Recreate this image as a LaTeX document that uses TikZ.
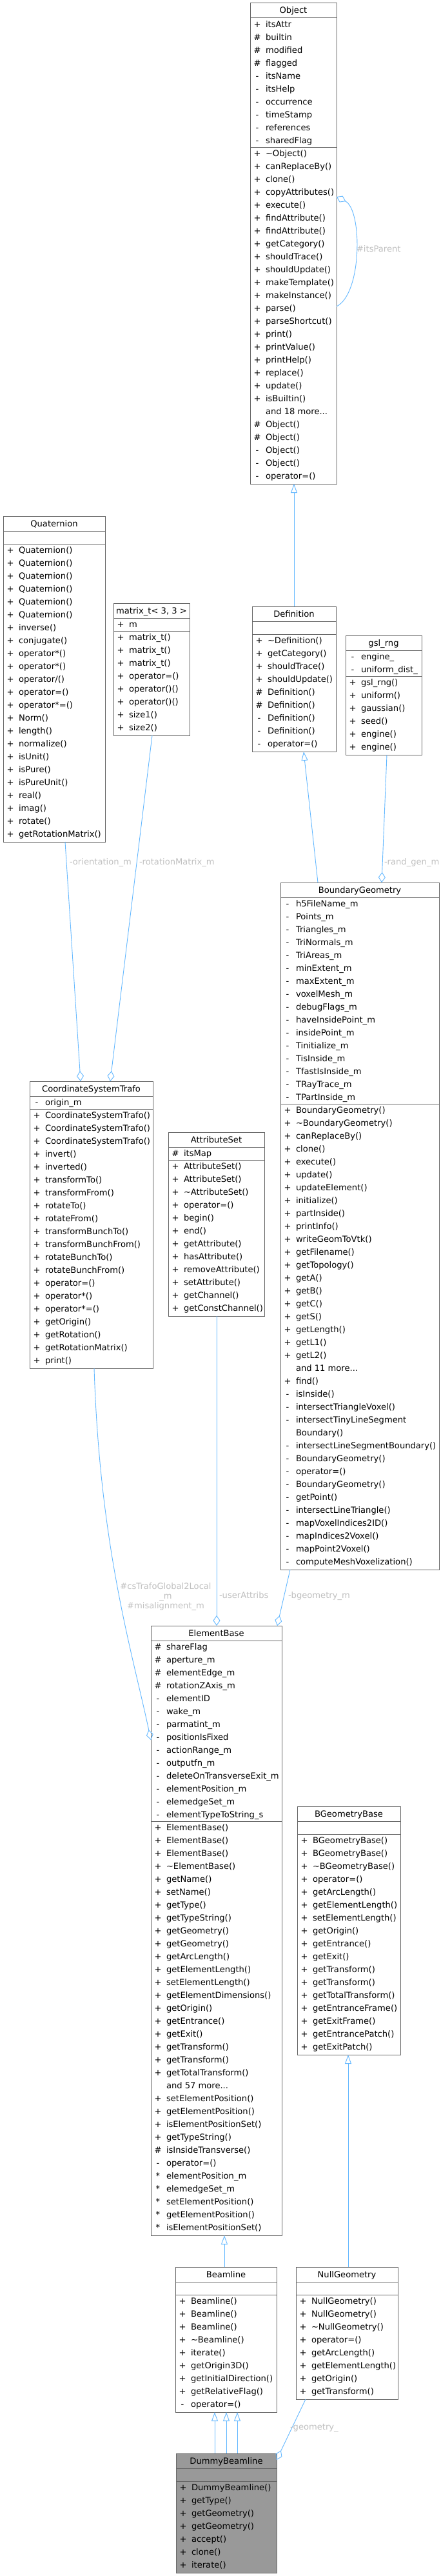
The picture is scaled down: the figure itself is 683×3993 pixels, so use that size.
\documentclass[tikz,border=0pt]{standalone}
\usepackage{fontspec}
\setmainfont{DejaVu Sans}
\usetikzlibrary{arrows.meta,calc}
\definecolor{boxline}{HTML}{666666}
\definecolor{edgecol}{HTML}{63B8FF}
\definecolor{lblcol}{HTML}{C0C0C0}
\definecolor{focusfill}{HTML}{999999}
\newcommand\clsfill{white}
% #1 name #2 left #3 top #4 width #5 nattr #6 nmeth #7 title #8 attrs #9 methods
\newcommand\cls[9]{%
  \pgfmathsetmacro\clsA{max(#5,1)}%
  \pgfmathsetmacro\clsH{23+20*\clsA+20*#6+2}%
  \node[clsbox, fill=\clsfill, minimum width=#4, minimum height=\clsH, anchor=north west] (#1) at (#2,#3) {};
  \draw[boxline, line width=1pt] ($(#1.north west)+(0,23)$) -- ($(#1.north east)+(0,23)$);
  \draw[boxline, line width=1pt] ($(#1.north west)+(0,23+20*\clsA)$) -- ($(#1.north east)+(0,23+20*\clsA)$);
  \node[txt, anchor=base] at ({#2+#4/2},{#3+16}) {#7};
  \if\relax\detokenize{#8}\relax\else
  \foreach \p/\t [count=\i] in {#8} {
    \pgfmathsetmacro\ry{#3+23+14.5+20*(\i-1)}
    \node[txt, anchor=base] at ({#2+11},\ry) {\p};
    \node[txt, anchor=base west] at ({#2+24},\ry) {\t};
  }\fi
  \foreach \p/\t [count=\i] in {#9} {
    \pgfmathsetmacro\ry{#3+23+20*\clsA+14.5+20*(\i-1)}
    \node[txt, anchor=base] at ({#2+11},\ry) {\p};
    \node[txt, anchor=base west] at ({#2+24},\ry) {\t};
  }%
}
\tikzset{
  every node/.style={font=\fontsize{13.1}{15}\selectfont},
  clsbox/.style={draw=boxline, line width=1pt, inner sep=0pt, outer sep=0pt, rectangle},
  txt/.style={inner sep=0pt, outer sep=0pt, text=black},
  lbl/.style={inner sep=0pt, outer sep=0pt, text=lblcol},
  edge/.style={draw=edgecol, line width=0.9pt},
  inh/.style={edge, -{Triangle[open, length=14pt, width=10pt]}},
  comp/.style={edge, -{Diamond[open, length=16pt, width=11pt]}},
}
\begin{document}
\begin{tikzpicture}[x=1pt,y=-1pt]
\useasboundingbox (0,0) rectangle (683,3993);
\fill[white] (0,0) rectangle (683,3993);

\cls{obj}{388}{5}{134}{10}{26}{Object}
 {+/itsAttr, \#/builtin, \#/modified, \#/flagged, -/itsName, -/itsHelp, -/occurrence, -/timeStamp, -/references, -/sharedFlag}
 {+/\textasciitilde Object(), +/canReplaceBy(), +/clone(), +/copyAttributes(), +/execute(), +/findAttribute(), +/findAttribute(), +/getCategory(), +/shouldTrace(), +/shouldUpdate(), +/makeTemplate(), +/makeInstance(), +/parse(), +/parseShortcut(), +/print(), +/printValue(), +/printHelp(), +/replace(), +/update(), +/isBuiltin(), {}/{and 18 more...}, \#/Object(), \#/Object(), -/Object(), -/Object(), -/operator=()}

\cls{quat}{5}{800}{158}{0}{23}{Quaternion}{}
 {+/Quaternion(), +/Quaternion(), +/Quaternion(), +/Quaternion(), +/Quaternion(), +/Quaternion(), +/inverse(), +/conjugate(), +/operator*(), +/operator*(), +/{operator/()}, +/operator=(), +/operator*=(), +/Norm(), +/length(), +/normalize(), +/isUnit(), +/isPure(), +/isPureUnit(), +/real(), +/imag(), +/rotate(), +/getRotationMatrix()}

\cls{mat}{176}{935}{118}{1}{8}{matrix\_t< 3, 3 >}
 {+/m}
 {+/matrix\_t(), +/matrix\_t(), +/matrix\_t(), +/operator=(), +/operator()(), +/operator()(), +/size1(), +/size2()}

\cls{def}{391}{940}{130}{0}{9}{Definition}{}
 {+/\textasciitilde Definition(), +/getCategory(), +/shouldTrace(), +/shouldUpdate(), \#/Definition(), \#/Definition(), -/Definition(), -/Definition(), -/operator=()}

\cls{gsl}{536}{985}{118}{2}{6}{gsl\_rng}
 {-/engine\_, -/uniform\_dist\_}
 {+/gsl\_rng(), +/uniform(), +/gaussian(), +/seed(), +/engine(), +/engine()}

\cls{bg}{435}{1368}{246}{16}{36}{BoundaryGeometry}
 {-/h5FileName\_m, -/Points\_m, -/Triangles\_m, -/TriNormals\_m, -/TriAreas\_m, -/minExtent\_m, -/maxExtent\_m, -/voxelMesh\_m, -/debugFlags\_m, -/haveInsidePoint\_m, -/insidePoint\_m, -/Tinitialize\_m, -/TisInside\_m, -/TfastIsInside\_m, -/TRayTrace\_m, -/TPartInside\_m}
 {+/BoundaryGeometry(), +/\textasciitilde BoundaryGeometry(), +/canReplaceBy(), +/clone(), +/execute(), +/update(), +/updateElement(), +/initialize(), +/partInside(), +/printInfo(), +/writeGeomToVtk(), +/getFilename(), +/getTopology(), +/getA(), +/getB(), +/getC(), +/getS(), +/getLength(), +/getL1(), +/getL2(), {}/{and 11 more...}, +/find(), -/isInside(), -/intersectTriangleVoxel(), -/intersectTinyLineSegment, {}/Boundary(), -/intersectLineSegmentBoundary(), -/BoundaryGeometry(), -/operator=(), -/BoundaryGeometry(), -/getPoint(), -/intersectLineTriangle(), -/mapVoxelIndices2ID(), -/mapIndices2Voxel(), -/mapPoint2Voxel(), -/computeMeshVoxelization()}

\cls{cst}{46}{1676}{191}{1}{20}{CoordinateSystemTrafo}
 {-/origin\_m}
 {+/CoordinateSystemTrafo(), +/CoordinateSystemTrafo(), +/CoordinateSystemTrafo(), +/invert(), +/inverted(), +/transformTo(), +/transformFrom(), +/rotateTo(), +/rotateFrom(), +/transformBunchTo(), +/transformBunchFrom(), +/rotateBunchTo(), +/rotateBunchFrom(), +/operator=(), +/operator*(), +/operator*=(), +/getOrigin(), +/getRotation(), +/getRotationMatrix(), +/print()}

\cls{attr}{261}{1755}{149}{1}{12}{AttributeSet}
 {\#/itsMap}
 {+/AttributeSet(), +/AttributeSet(), +/\textasciitilde AttributeSet(), +/operator=(), +/begin(), +/end(), +/getAttribute(), +/hasAttribute(), +/removeAttribute(), +/setAttribute(), +/getChannel(), +/getConstChannel()}

\cls{eb}{234}{2520}{203}{14}{32}{ElementBase}
 {\#/shareFlag, \#/aperture\_m, \#/elementEdge\_m, \#/rotationZAxis\_m, -/elementID, -/wake\_m, -/parmatint\_m, -/positionIsFixed, -/actionRange\_m, -/outputfn\_m, -/deleteOnTransverseExit\_m, -/elementPosition\_m, -/elemedgeSet\_m, -/elementTypeToString\_s}
 {+/ElementBase(), +/ElementBase(), +/ElementBase(), +/\textasciitilde ElementBase(), +/getName(), +/setName(), +/getType(), +/getTypeString(), +/getGeometry(), +/getGeometry(), +/getArcLength(), +/getElementLength(), +/setElementLength(), +/getElementDimensions(), +/getOrigin(), +/getEntrance(), +/getExit(), +/getTransform(), +/getTransform(), +/getTotalTransform(), {}/{and 57 more...}, +/setElementPosition(), +/getElementPosition(), +/isElementPositionSet(), +/getTypeString(), \#/isInsideTransverse(), -/operator=(), */elementPosition\_m, */elemedgeSet\_m, */setElementPosition(), */getElementPosition(), */isElementPositionSet()}

\cls{bgb}{461}{2800}{160}{0}{17}{BGeometryBase}{}
 {+/BGeometryBase(), +/BGeometryBase(), +/\textasciitilde BGeometryBase(), +/operator=(), +/getArcLength(), +/getElementLength(), +/setElementLength(), +/getOrigin(), +/getEntrance(), +/getExit(), +/getTransform(), +/getTransform(), +/getTotalTransform(), +/getEntranceFrame(), +/getExitFrame(), +/getEntrancePatch(), +/getExitPatch()}

\cls{beam}{272}{3514}{157}{0}{9}{Beamline}{}
 {+/Beamline(), +/Beamline(), +/Beamline(), +/\textasciitilde Beamline(), +/iterate(), +/getOrigin3D(), +/getInitialDirection(), +/getRelativeFlag(), -/operator=()}

\cls{null}{459}{3514}{158}{0}{8}{NullGeometry}{}
 {+/NullGeometry(), +/NullGeometry(), +/\textasciitilde NullGeometry(), +/operator=(), +/getArcLength(), +/getElementLength(), +/getOrigin(), +/getTransform()}

\renewcommand\clsfill{focusfill}
\cls{dummy}{273}{3803}{156}{0}{7}{DummyBeamline}{}
 {+/DummyBeamline(), +/getType(), +/getGeometry(), +/getGeometry(), +/accept(), +/clone(), +/iterate()}

% inheritance
\draw[inh] ($(def.north west)+(65,0)$) -- ($(obj.south west)+(68,0)$);
\draw[inh] ($(bg.north west)+(58,0)$) -- ($(def.south west)+(80,0)$);
\draw[inh] ($(beam.north west)+(76,0)$) -- ($(eb.south west)+(114,0)$);
\draw[inh] ($(dummy.north west)+(60,0)$) -- ($(beam.south west)+(61,0)$);
\draw[inh] ($(dummy.north west)+(78,0)$) -- ($(beam.south west)+(79,0)$);
\draw[inh] ($(dummy.north west)+(95,0)$) -- ($(beam.south west)+(96,0)$);
\draw[inh] ($(null.north west)+(81,0)$) -- ($(bgb.south west)+(79,0)$);

% usage
\draw[comp] ($(obj.north east)+(0,470)$) .. controls ($(obj.north east)+(40,450)$) and ($(obj.north east)+(40,320)$) .. ($(obj.north east)+(0,300)$);
\node[lbl, anchor=base west] (lparent) at (553,390) {\#itsParent};

\draw[comp] ($(quat.south west)+(96,0)$) -- ($(cst.north west)+(79,0)$);
\node[lbl, anchor=base west] (lorient) at (108,1340.5) {-orientation\_m};
\draw[comp] ($(mat.south west)+(60,0)$) -- ($(cst.north west)+(125,0)$);
\node[lbl, anchor=base west] (lrot) at (216,1340.5) {-rotationMatrix\_m};
\draw[comp] ($(gsl.south west)+(64,0)$) -- ($(bg.north west)+(157,0)$);
\node[lbl, anchor=base west] (lrand) at (596,1340.5) {-rand\_gen\_m};

\draw[comp] ($(cst.south west)+(100,0)$) .. controls (155,2400) and (205,2560) .. ($(eb.north west)+(0,177)$);
\node[lbl, anchor=base] (lcs1) at (257,2463) {\#csTrafoGlobal2Local};
\node[lbl, anchor=base] (lcs2) at (257,2478) {\_m};
\node[lbl, anchor=base] (lcs3) at (257,2493) {\#misalignment\_m};

\draw[comp] ($(attr.south west)+(75,0)$) -- ($(eb.north west)+(102,0)$);
\node[lbl, anchor=base west] (luser) at (340,2477.5) {-userAttribs};
\draw[comp] ($(bg.south west)+(15,0)$) -- ($(eb.north east)+(-7,0)$);
\node[lbl, anchor=base west] (lbgeo) at (447,2477.5) {-bgeometry\_m};

\draw[comp] ($(null.south west)+(15,0)$) -- ($(dummy.north east)+(0,10)$);
\node[lbl, anchor=base west] (lgeo) at (450,3766) {-geometry\_};
\end{tikzpicture}
\end{document}
